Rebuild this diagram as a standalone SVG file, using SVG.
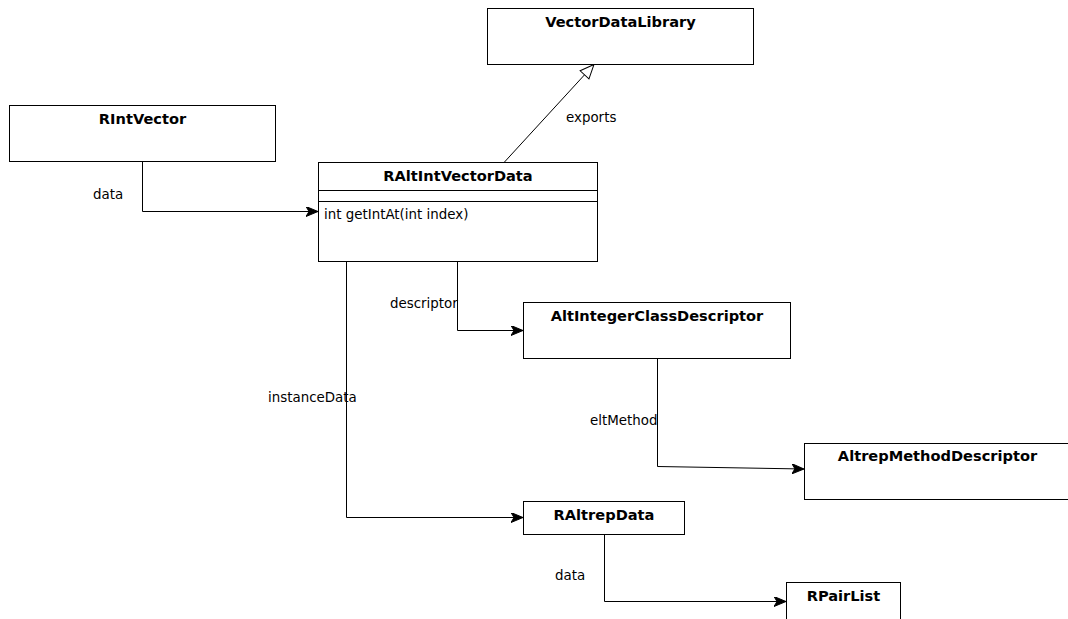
<svg xmlns="http://www.w3.org/2000/svg" width="1068" height="619" viewBox="0 0 1068 619">
  <style>
    .box { fill: #ffffff; stroke: #000000; stroke-width: 1; }
    .sep { stroke: #000000; stroke-width: 1; }
    .title { font-family: "DejaVu Sans", "Liberation Sans", sans-serif; font-size: 14.6px; font-weight: bold; fill: #000000; text-anchor: middle; }
    .member { font-family: "DejaVu Sans", "Liberation Sans", sans-serif; font-size: 13.4px; fill: #000000; }
    .label { font-family: "DejaVu Sans", "Liberation Sans", sans-serif; font-size: 13.4px; fill: #000000; }
    .edge { fill: none; stroke: #000000; stroke-width: 1; }
  </style>
  <defs>
    <marker id="arrow" viewBox="0 0 12 10" refX="12" refY="5" markerWidth="12" markerHeight="10" markerUnits="userSpaceOnUse" orient="auto">
      <path d="M0,0 L12,5 L0,10 L3,5 Z" fill="#000000" stroke="#000000" stroke-width="1"/>
    </marker>
    <marker id="extends" viewBox="0 0 16 14" refX="15" refY="7" markerWidth="16" markerHeight="14" markerUnits="userSpaceOnUse" orient="auto">
      <path d="M1,1 L15,7 L1,13 Z" fill="#ffffff" stroke="#000000" stroke-width="1"/>
    </marker>
  </defs>

  <rect width="1068" height="619" fill="#ffffff"/>

  <!-- connectors -->
  <g id="connectors">
    <path class="edge" d="M504.5,162 L594,64.5" marker-end="url(#extends)"/>
    <text class="label" x="566" y="122">exports</text>

    <path class="edge" d="M142.5,161 L142.5,211.5 L318,211.5" marker-end="url(#arrow)"/>
    <text class="label" x="93" y="199">data</text>

    <path class="edge" d="M457.5,261 L457.5,330.5 L523,330.5" marker-end="url(#arrow)"/>
    <text class="label" x="390" y="308">descriptor</text>

    <path class="edge" d="M346.5,261 L346.5,517.5 L523,517.5" marker-end="url(#arrow)"/>
    <text class="label" x="268" y="402">instanceData</text>

    <path class="edge" d="M657.5,358 L657.5,466.5 L804,469" marker-end="url(#arrow)"/>
    <text class="label" x="590" y="425">eltMethod</text>

    <path class="edge" d="M604.5,534 L604.5,601.5 L786,601.5" marker-end="url(#arrow)"/>
    <text class="label" x="555" y="580">data</text>
  </g>

  <!-- nodes -->
  <g id="VectorDataLibrary">
    <rect class="box" x="487.5" y="8.5" width="266" height="56"/>
    <text class="title" x="620.5" y="27">VectorDataLibrary</text>
  </g>

  <g id="RIntVector">
    <rect class="box" x="9.5" y="105.5" width="266" height="56"/>
    <text class="title" x="142.5" y="124">RIntVector</text>
  </g>

  <g id="RAltIntVectorData">
    <rect class="box" x="318.5" y="162.5" width="279" height="99"/>
    <line class="sep" x1="318.5" y1="190.5" x2="597.5" y2="190.5"/>
    <line class="sep" x1="318.5" y1="201.5" x2="597.5" y2="201.5"/>
    <text class="title" x="458" y="181">RAltIntVectorData</text>
    <text class="member" x="324" y="219">int getIntAt(int index)</text>
  </g>

  <g id="AltIntegerClassDescriptor">
    <rect class="box" x="523.5" y="302.5" width="267" height="56"/>
    <text class="title" x="657" y="321">AltIntegerClassDescriptor</text>
  </g>

  <g id="AltrepMethodDescriptor">
    <rect class="box" x="804.5" y="443.5" width="266" height="56"/>
    <text class="title" x="937.5" y="461">AltrepMethodDescriptor</text>
  </g>

  <g id="RAltrepData">
    <rect class="box" x="523.5" y="501.5" width="161" height="33"/>
    <text class="title" x="604" y="520">RAltrepData</text>
  </g>

  <g id="RPairList">
    <rect class="box" x="786.5" y="582.5" width="114" height="56"/>
    <text class="title" x="843.5" y="601">RPairList</text>
  </g>
</svg>
